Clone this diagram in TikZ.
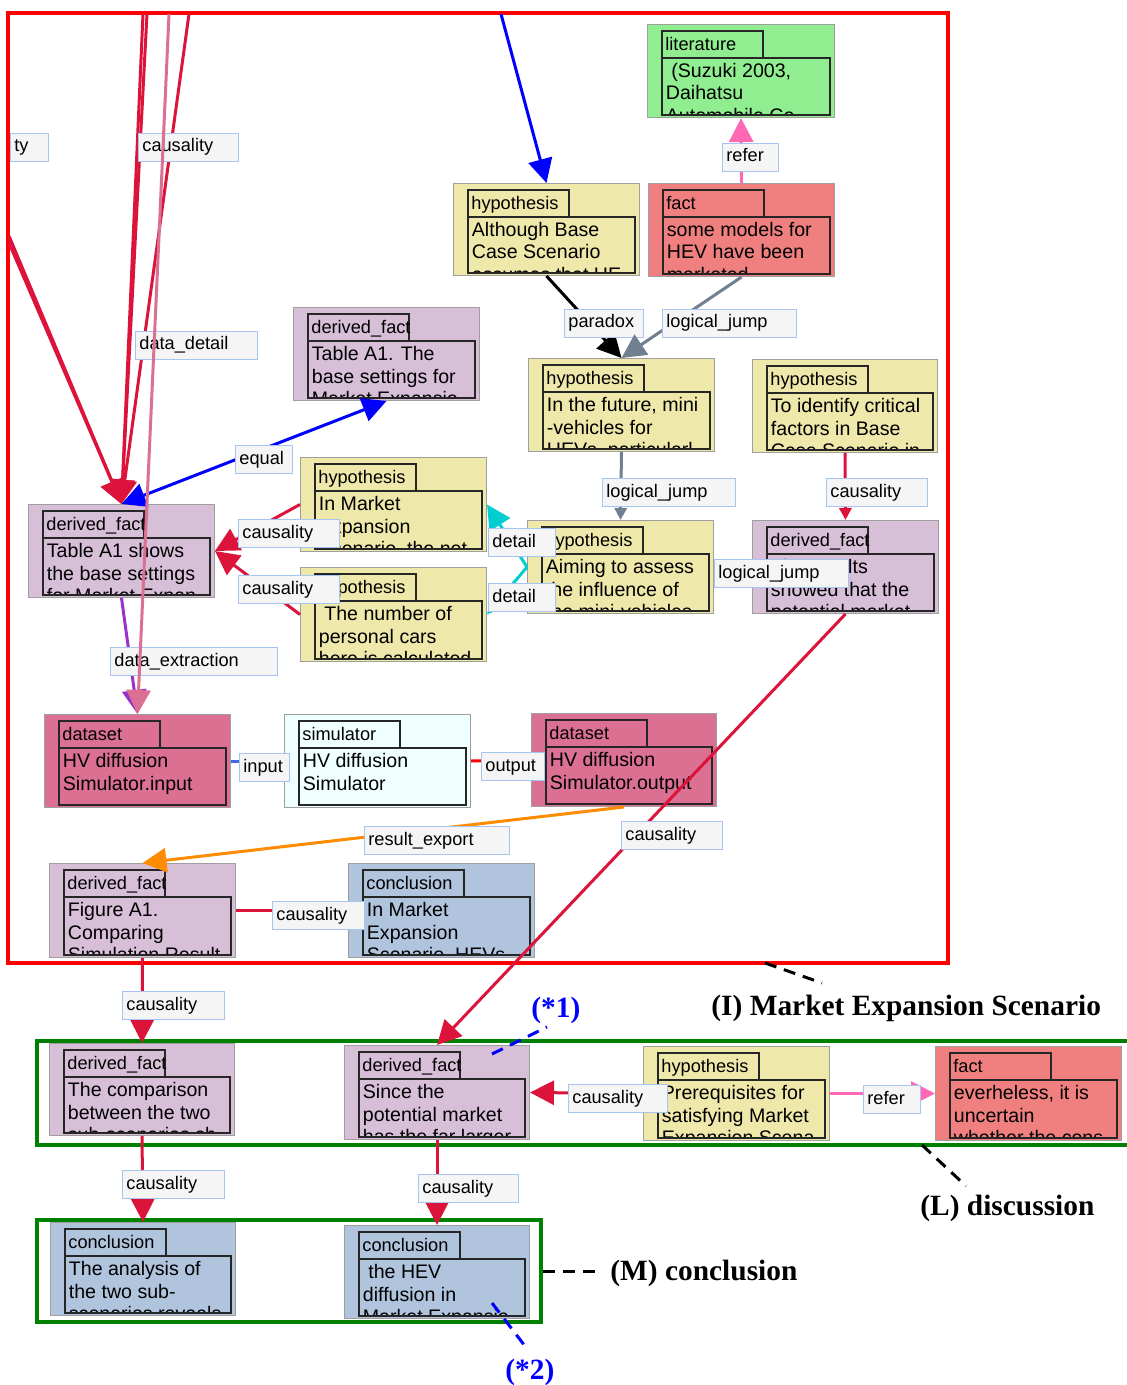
\documentclass[tikz,border=0pt]{standalone}
\usepackage{fontspec}
\setmainfont{Liberation Sans}
\newfontfamily\notefont{Liberation Serif}
\usetikzlibrary{arrows.meta}
\definecolor{hypcol}{HTML}{EEE8AA}
\definecolor{factcol}{HTML}{F08080}
\definecolor{litcol}{HTML}{90EE90}
\definecolor{dfcol}{HTML}{D8BFD8}
\definecolor{dscol}{HTML}{DB7093}
\definecolor{simcol}{HTML}{F0FFFF}
\definecolor{concol}{HTML}{B0C4DE}
\definecolor{lblfill}{HTML}{F5F5F5}
\definecolor{lblblue}{HTML}{A8C4F0}
\definecolor{causecol}{HTML}{DC143C}
\definecolor{slatecol}{HTML}{708090}
\definecolor{pinkcol}{HTML}{FF69B4}
\definecolor{cyancol}{HTML}{00CED1}
\definecolor{orchidcol}{HTML}{9932CC}
\definecolor{royalcol}{HTML}{4169E1}
\definecolor{orangecol}{HTML}{FF8C00}
\definecolor{greencol}{HTML}{008000}
% concept box: name, left, top, width, height, fill, type, text
\newcommand\conceptbox[8]{%
  \node[entbox, fill=#6, minimum width=#4*0.5pt, minimum height=#5*0.5pt] (#1) at (#2,#3) {};
  \coordinate (#1-h) at ([shift={(15,7)}]#1.north west);
  \draw[entline] (#1-h) rectangle ++(101,27);
  \node[enthead] at ([shift={(3,19.5)}]#1-h) {#7};
  \coordinate (#1-a) at ([shift={(15,34)}]#1.north west);
  \coordinate (#1-b) at ([shift={(-5,-3)}]#1.south east);
  \begin{scope}
    \clip (#1-a) rectangle (#1-b);
    \node[enttext] at ([shift={(3.5,3)}]#1-a) {\rule{0pt}{8pt}#8};
  \end{scope}
  \draw[entline] (#1-a) rectangle (#1-b);
}
% link label: name, left, top, width, text
\newcommand\linklabel[5]{%
  \node[lblbox, minimum width=#4*0.5pt] (#1) at (#2,#3) {};
  \node[lbltext] at ([shift={(4,19)}]#1.north west) {#5};
}
\begin{document}
\begin{tikzpicture}[x=0.5pt, y=-0.5pt,
  every node/.style={font=\fontsize{9.8}{11.3}\selectfont},
  entbox/.style={draw=gray!75, line width=0.5pt, anchor=north west, inner sep=0pt},
  entline/.style={draw=black!85, line width=0.6pt},
  enthead/.style={anchor=base west, inner sep=0pt, font=\fontsize{9.1}{11}\selectfont},
  enttext/.style={anchor=north west, inner sep=0pt, align=left},
  lblbox/.style={draw=lblblue, fill=lblfill, line width=0.5pt, anchor=north west, inner sep=0pt, minimum height=14pt},
  lbltext/.style={anchor=base west, inner sep=0pt, font=\fontsize{9.1}{11}\selectfont},
  conn/.style={line width=1.5pt},
  bighead/.style={-{Triangle[length=12pt,width=12pt]}},
  smallhead/.style={-{Triangle[length=6pt,width=6pt]}},
  twoheads/.style={{Triangle[length=12pt,width=12pt]}-{Triangle[length=12pt,width=12pt]}},
  scenframe/.style={line width=2pt},
  notetext/.style={anchor=base west, inner sep=0pt, font=\fontsize{14.7}{17}\notefont\bfseries},
  noteline/.style={line width=1.5pt, dash pattern=on 6pt off 4pt}]
\useasboundingbox (0,0) rectangle (1127,1385);

% frames
\draw[scenframe, red] (8,13) rectangle (948,963);
\draw[scenframe, greencol] (37,1041) rectangle (1140,1145);
\draw[scenframe, greencol] (37,1220) rectangle (541,1322);

% concepts
\conceptbox{lit}{647}{24}{187}{93}{litcol}{literature}{\ (Suzuki 2003,\\Daihatsu\\Automobile Co.}
\conceptbox{fctA}{648}{183}{186}{93}{factcol}{fact}{some models for\\HEV have been\\marketed}
\conceptbox{hypA}{453}{183}{186}{92}{hypcol}{hypothesis}{Although Base\\Case Scenario\\assumes that HE}
\conceptbox{dfA}{293}{307}{186}{93}{dfcol}{derived\_fact}{Table A1. The\\base settings for\\Market Expansio}
\conceptbox{hypB}{528}{358}{186}{93}{hypcol}{hypothesis}{In the future, mini\\-vehicles for\\HEVs, particularl}
\conceptbox{hypC}{752}{359}{185}{93}{hypcol}{hypothesis}{To identify critical\\factors in Base\\Case Scenario in}
\conceptbox{dfB}{28}{504}{186}{93}{dfcol}{derived\_fact}{Table A1 shows\\the base settings\\for Market Expan}
\conceptbox{hypD}{300}{457}{186}{94}{hypcol}{hypothesis}{In Market\\Expansion\\Scenario, the net}
\conceptbox{hypE}{300}{567}{186}{94}{hypcol}{hypothesis}{\ The number of\\personal cars\\here is calculated}
\conceptbox{hypF}{527}{520}{186}{93}{hypcol}{hypothesis}{Aiming to assess\\the influence of\\the mini-vehicles}
\conceptbox{dfC}{752}{520}{186}{93}{dfcol}{derived\_fact}{The results\\showed that the\\potential market}
\conceptbox{dsIn}{44}{714}{186}{93}{dscol}{dataset}{HV diffusion\\Simulator.input}
\conceptbox{sim}{284}{714}{186}{93}{simcol}{simulator}{HV diffusion\\Simulator}
\conceptbox{dsOut}{531}{713}{185}{93}{dscol}{dataset}{HV diffusion\\Simulator.output}
\conceptbox{dfD}{49}{863}{186}{94}{dfcol}{derived\_fact}{Figure A1.\\Comparing\\Simulation Result}
\conceptbox{conA}{348}{863}{186}{94}{concol}{conclusion}{In Market\\Expansion\\Scenario, HEVs}
\conceptbox{dfE}{49}{1043}{185}{92}{dfcol}{derived\_fact}{The comparison\\between the two\\sub-scenarios sh}
\conceptbox{dfF}{344}{1045}{185}{94}{dfcol}{derived\_fact}{Since the\\potential market\\has the far larger}
\conceptbox{hypG}{643}{1046}{186}{94}{hypcol}{hypothesis}{Prerequisites for\\satisfying Market\\Expansion Scena}
\conceptbox{fctB}{935}{1046}{186}{94}{factcol}{fact}{everheless, it is\\uncertain\\whether the cons}
\conceptbox{conB}{50}{1222}{185}{93}{concol}{conclusion}{The analysis of\\the two sub-\\scenarios reveals}
\conceptbox{conC}{344}{1225}{185}{93}{concol}{conclusion}{\ the HEV\\diffusion in\\Market Expansio}

% free ends at the frame
\coordinate (inA) at (143,14);
\coordinate (inB) at (147,14);
\coordinate (inC) at (189,14);
\coordinate (inD) at (9,236);
\coordinate (inE) at (9,243);
\coordinate (inP) at (169,14);
\coordinate (inT) at (501,14);

% links
\foreach \src in {inA,inB,inC,inD,inE}
  \draw[conn, causecol, bighead] (\src) -- (dfB.north);
\linklabel{lTy}{10}{133}{38}{ty}
\linklabel{lCaA}{138}{133}{100}{causality}
\linklabel{lDd}{135}{331}{122}{data\_detail}
\draw[conn, blue, bighead] (inT) -- (hypA.north);
\draw[conn, blue, twoheads] (dfB.north) -- (dfA.south);
\linklabel{lEq}{235}{445}{57}{equal}
\draw[conn, black, bighead] (hypA.south) -- (hypB.north);
\linklabel{lPa}{564}{309}{79}{paradox}
\draw[conn, slatecol, bighead] (fctA.south) -- (hypB.north);
\linklabel{lLjA}{662}{309}{134}{logical\_jump}
\draw[conn, pinkcol, bighead] (fctA.north) -- (lit.south);
\linklabel{lReA}{722}{143}{56}{refer}
\draw[conn, slatecol, smallhead] (hypB.south) -- (hypF.north);
\linklabel{lLjB}{602}{478}{133}{logical\_jump}
\draw[conn, causecol, smallhead] (hypC.south) -- (dfC.north);
\linklabel{lCaB}{826}{478}{101}{causality}
\draw[conn, slatecol, smallhead] (dfC.west) -- (hypF.east);
\linklabel{lLjC}{714}{559}{134}{logical\_jump}
\draw[conn, cyancol, bighead] (hypF.west) -- (hypD.east);
\draw[conn, cyancol, bighead] (hypF.west) -- (hypE.east);
\linklabel{lDeA}{488}{528}{67}{detail}
\linklabel{lDeB}{488}{583}{67}{detail}
\draw[conn, causecol, bighead] (hypD.west) -- (dfB.east);
\draw[conn, causecol, bighead] (hypE.west) -- (dfB.east);
\linklabel{lCaC}{238}{519}{101}{causality}
\linklabel{lCaD}{238}{575}{101}{causality}
\draw[conn, orchidcol, bighead] (dfB.south) -- (dsIn.north);
\linklabel{lDx}{110}{647}{167}{data\_extraction}
\draw[conn, dscol, bighead] (inP) -- (dsIn.north);
\draw[conn, royalcol, smallhead] (dsIn.east) -- (sim.west);
\linklabel{lIn}{239}{753}{50}{input}
\draw[conn, red, smallhead] (sim.east) -- (dsOut.west);
\linklabel{lOut}{481}{752}{63}{output}
\draw[conn, orangecol, bighead] (dsOut.south) -- (dfD.north);
\linklabel{lRx}{364}{826}{145}{result\_export}
\draw[conn, causecol, smallhead] (dfD.east) -- (conA.west);
\linklabel{lCaE}{272}{901}{92}{causality}
\draw[conn, causecol, bighead] (dfC.south) -- (dfF.north);
\linklabel{lCaF}{621}{821}{101}{causality}
\draw[conn, causecol, bighead] (dfD.south) -- (dfE.north);
\linklabel{lCaG}{122}{991}{102}{causality}
\draw[conn, causecol, bighead] (dfE.south) -- (conB.north);
\linklabel{lCaH}{122}{1170}{102}{causality}
\draw[conn, causecol, bighead] (dfF.south) -- (conC.north);
\linklabel{lCaI}{418}{1174}{100}{causality}
\draw[conn, causecol, bighead] (hypG.west) -- (dfF.east);
\linklabel{lCaJ}{568}{1084}{99}{causality}
\draw[conn, pinkcol, bighead] (hypG.east) -- (fctB.west);
\linklabel{lReB}{863}{1085}{57}{refer}

% notes
\node[notetext] (nI) at (711,1015) {(I) Market Expansion Scenario};
\node[notetext] (nL) at (920,1215) {(L) discussion};
\node[notetext] (nM) at (610,1280) {(M) conclusion};
\node[notetext, text=blue] (nS1) at (531,1017) {(*1)};
\node[notetext, text=blue] (nS2) at (505,1379) {(*2)};
\coordinate (nIa) at (765,963);  \coordinate (nIb) at (822,983);
\coordinate (nLa) at (922,1145); \coordinate (nLb) at (966,1186);
\coordinate (nMa) at (543,1271); \coordinate (nMb) at (598,1271);
\coordinate (nSa) at (492,1054); \coordinate (nSb) at (547,1027);
\coordinate (nTa) at (492,1303); \coordinate (nTb) at (528,1350);
\draw[noteline] (nIa) -- (nIb);
\draw[noteline] (nLa) -- (nLb);
\draw[noteline] (nMa) -- (nMb);
\draw[noteline, blue] (nSa) -- (nSb);
\draw[noteline, blue] (nTa) -- (nTb);
\end{tikzpicture}
\end{document}
